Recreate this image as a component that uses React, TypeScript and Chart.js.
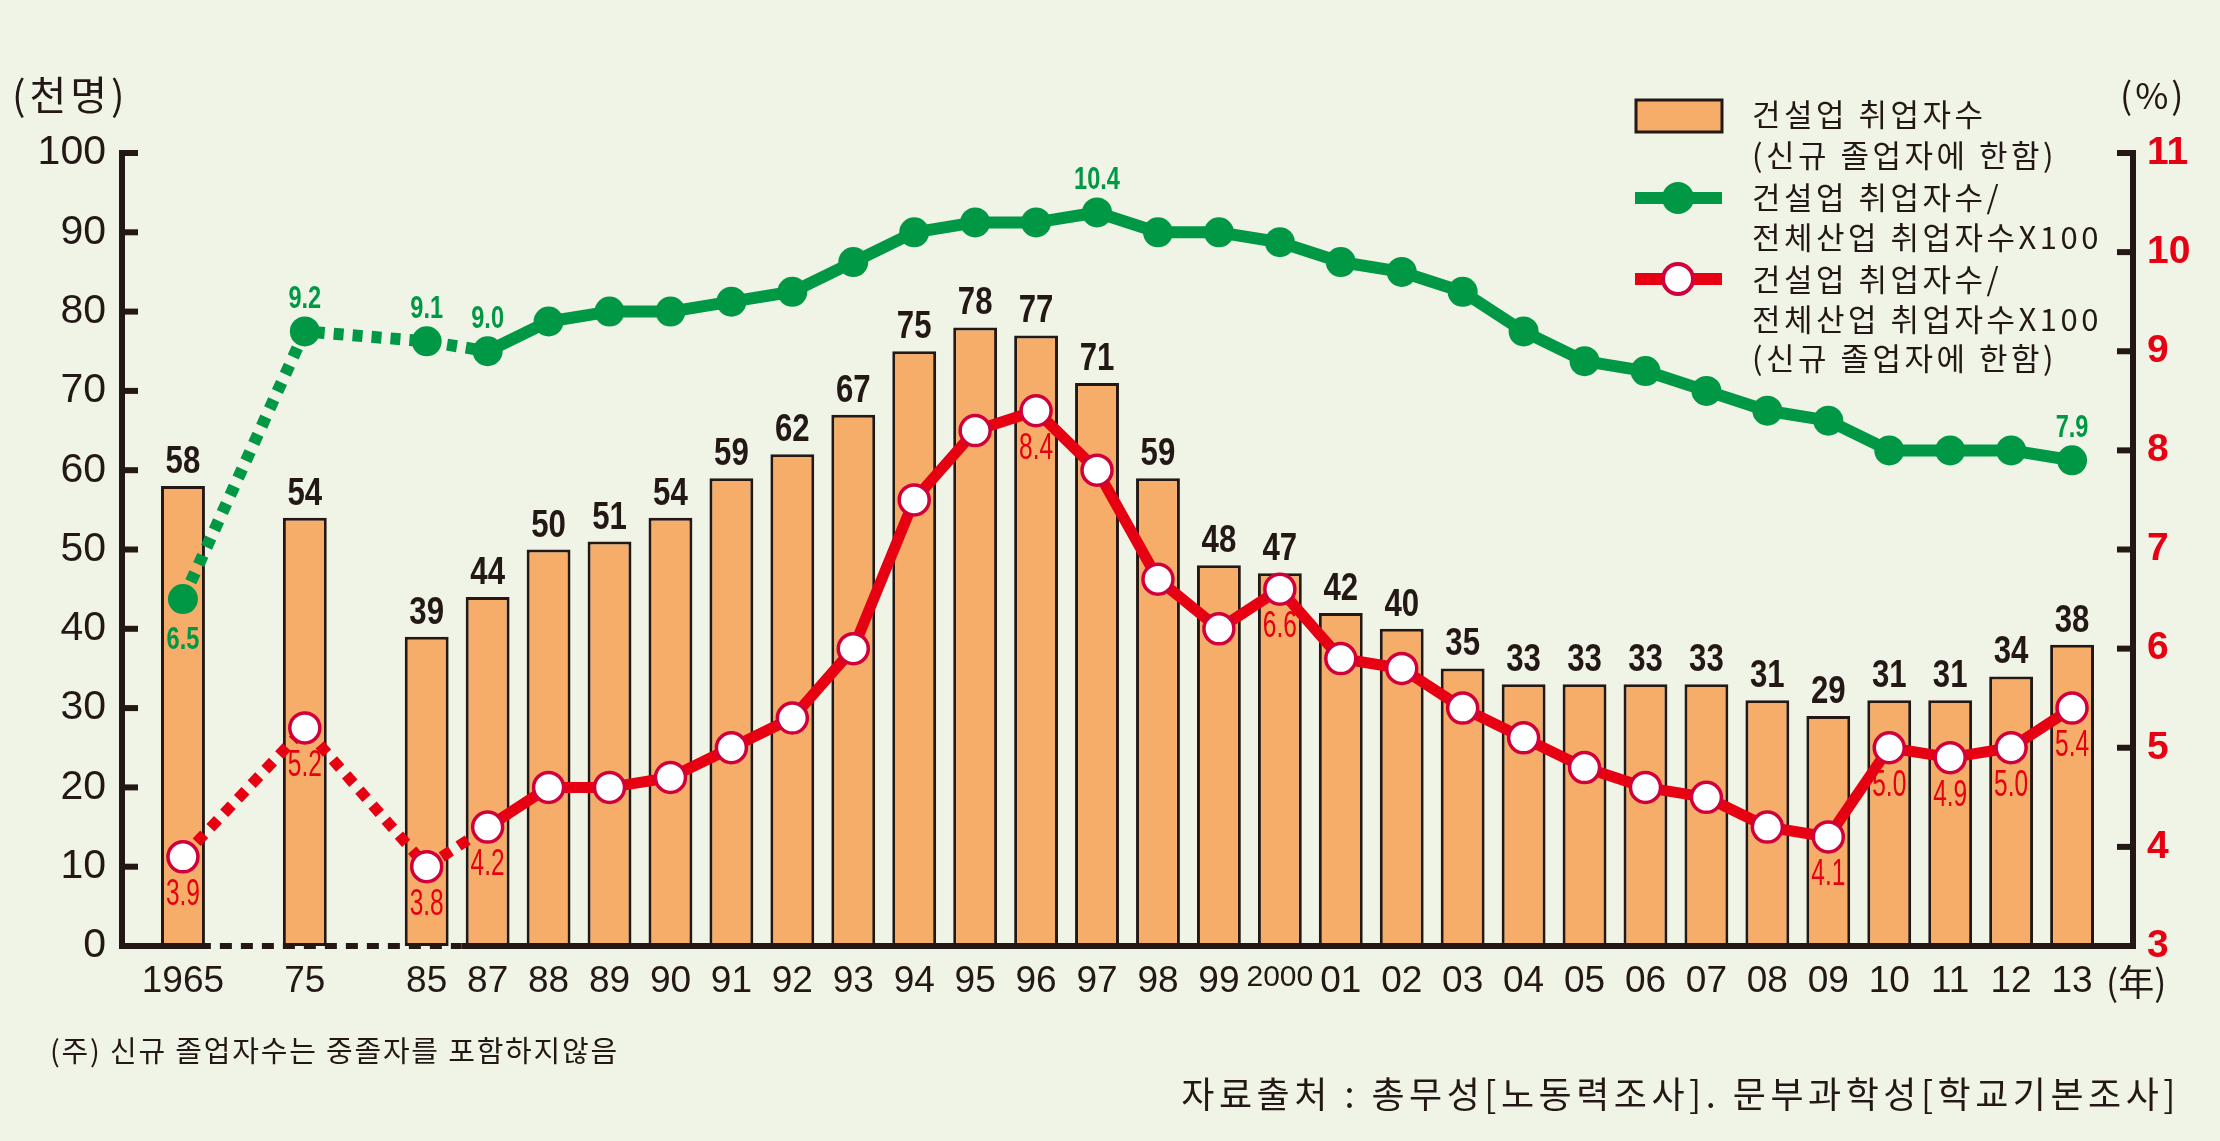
import React, { useEffect, useRef } from "react";
import { Chart, registerables } from "chart.js";

Chart.register(...registerables);

// ---- data ----
const categories = ["", "1965", "", "75", "", "85", "87", "88", "89", "90", "91", "92", "93", "94", "95", "96", "97", "98", "99", "2000", "01", "02", "03", "04", "05", "06", "07", "08", "09", "10", "11", "12", "13", ""];
const workers = [null, 58, null, 54, null, 39, 44, 50, 51, 54, 59, 62, 67, 75, 78, 77, 71, 59, 48, 47, 42, 40, 35, 33, 33, 33, 33, 31, 29, 31, 31, 34, 38, null];
const shareAll = [null, 6.5, null, 9.2, null, 9.1, 9.0, 9.3, 9.4, 9.4, 9.5, 9.6, 9.9, 10.2, 10.3, 10.3, 10.4, 10.2, 10.2, 10.1, 9.9, 9.8, 9.6, 9.2, 8.9, 8.8, 8.6, 8.4, 8.3, 8.0, 8.0, 8.0, 7.9, null];
const shareNew = [null, 3.9, null, 5.2, null, 3.8, 4.2, 4.6, 4.6, 4.7, 5.0, 5.3, 6.0, 7.5, 8.2, 8.4, 7.8, 6.7, 6.2, 6.6, 5.9, 5.8, 5.4, 5.1, 4.8, 4.6, 4.5, 4.2, 4.1, 5.0, 4.9, 5.0, 5.4, null];
// which points carry a value label
const shareAllLabels = [{ i: 1, pos: "below" }, { i: 3, pos: "above" }, { i: 5, pos: "above" }, { i: 6, pos: "above" }, { i: 16, pos: "above" }, { i: 32, pos: "above" }];
const shareNewLabels = [1, 3, 5, 6, 15, 19, 28, 29, 30, 31, 32];
const lastDottedIndex = 6;
const legendLines = [
  "건설업 취업자수",
  "(신규 졸업자에 한함)",
  "건설업 취업자수/",
  "전체산업 취업자수X100",
  "건설업 취업자수/",
  "전체산업 취업자수X100",
  "(신규 졸업자에 한함)",
];
const leftUnit = "(천명)";
const rightUnit = "(%)";
const xUnit = "(年)";
const footnote = "(주) 신규 졸업자수는 중졸자를 포함하지않음";
const source = "자료출처 : 총무성[노동력조사]. 문부과학성[학교기본조사]";

// ---- styles ----
const BG = "#EFF4E6";
const AXIS = "#231815";
const BAR = "#F5AD69";
const GREEN = "#009844";
const RED = "#E60012";
const RING = "#D1003A";
const SANS = "'Liberation Sans', Arial, sans-serif";
const KR = "'Noto Sans CJK KR', 'Noto Sans', sans-serif";

function drawText(ctx: any, text: string, x: number, y: number, font: string, color: string, sx: number, baseline: string, align: string = "center", spacing: string = "0px") {
  ctx.save();
  ctx.translate(x, y);
  ctx.scale(sx, 1);
  ctx.font = font;
  ctx.fillStyle = color;
  ctx.textAlign = align;
  ctx.textBaseline = baseline;
  (ctx as any).letterSpacing = spacing;
  ctx.fillText(text, 0, 0);
  ctx.restore();
}

const bgPlugin = {
  id: "bg",
  beforeDraw(chart: any) {
    const { ctx, width, height } = chart;
    ctx.save();
    ctx.fillStyle = BG;
    ctx.fillRect(0, 0, width, height);
    ctx.restore();
  },
};

const overlayPlugin = {
  id: "overlay",
  afterDatasetsDraw(chart: any) {
    const { ctx, chartArea, scales } = chart;
    const xs = scales.x, ys = scales.y, y1 = scales.y1;
    const slot = xs.getPixelForValue(2) - xs.getPixelForValue(1);
    const half = (slot * 0.72) / 2;
    ctx.save();
    ctx.strokeStyle = AXIS;
    ctx.lineWidth = 6;
    ctx.lineCap = "butt";
    // inward ticks
    ys.ticks.forEach((t: any) => {
      const py = ys.getPixelForValue(t.value);
      ctx.beginPath();
      ctx.moveTo(chartArea.left, py);
      ctx.lineTo(chartArea.left + 16, py);
      ctx.stroke();
    });
    y1.ticks.forEach((t: any) => {
      const py = y1.getPixelForValue(t.value);
      ctx.beginPath();
      ctx.moveTo(chartArea.right - 16, py);
      ctx.lineTo(chartArea.right, py);
      ctx.stroke();
    });
    // x axis line: solid, dashed through the missing years, solid
    const yb = chartArea.bottom;
    const d0 = xs.getPixelForValue(1) + half + 6;
    const d1 = xs.getPixelForValue(lastDottedIndex) - half - 4;
    ctx.beginPath();
    ctx.moveTo(chartArea.left - 3, yb);
    ctx.lineTo(d0, yb);
    ctx.stroke();
    ctx.setLineDash([12, 9]);
    ctx.beginPath();
    ctx.moveTo(d0 + 9, yb);
    ctx.lineTo(d1, yb);
    ctx.stroke();
    ctx.setLineDash([]);
    ctx.beginPath();
    ctx.moveTo(d1, yb);
    ctx.lineTo(chartArea.right + 3, yb);
    ctx.stroke();
    ctx.restore();

    // bar value labels
    const barMeta = chart.getDatasetMeta(0);
    barMeta.data.forEach((el: any, i: number) => {
      const v = workers[i];
      if (v == null) return;
      drawText(ctx, String(v), el.x, el.y - 13, `bold 39px ${SANS}`, AXIS, 0.8, "alphabetic");
    });
    // green labels
    const gMeta = chart.getDatasetMeta(1);
    shareAllLabels.forEach(({ i, pos }) => {
      const el = gMeta.data[i];
      const v = shareAll[i];
      if (!el || v == null) return;
      if (pos === "above") drawText(ctx, v.toFixed(1), el.x, el.y - 23, `bold 31px ${SANS}`, GREEN, 0.76, "alphabetic");
      else drawText(ctx, v.toFixed(1), el.x, el.y + 26, `bold 31px ${SANS}`, GREEN, 0.76, "top");
    });
    // red labels
    const rMeta = chart.getDatasetMeta(2);
    shareNewLabels.forEach((i) => {
      const el = rMeta.data[i];
      const v = shareNew[i];
      if (!el || v == null) return;
      drawText(ctx, v.toFixed(1), el.x, el.y + 20, `36px ${SANS}`, RED, 0.68, "top");
    });
  },
  afterDraw(chart: any) {
    const { ctx } = chart;
    // unit labels
    drawText(ctx, leftUnit, 12, 95, `40px ${KR}`, AXIS, 1, "middle", "left", "4px");
    drawText(ctx, rightUnit, 2120, 95, `36px ${KR}`, AXIS, 1, "middle", "left", "3px");
    drawText(ctx, xUnit, 2106, 982, `36px ${KR}`, AXIS, 1, "middle", "left", "0px");
    // legend
    ctx.save();
    ctx.fillStyle = BAR;
    ctx.strokeStyle = AXIS;
    ctx.lineWidth = 3;
    ctx.fillRect(1636, 100, 86, 32);
    ctx.strokeRect(1636, 100, 86, 32);
    // green marker
    ctx.strokeStyle = GREEN;
    ctx.lineWidth = 12;
    ctx.beginPath();
    ctx.moveTo(1635, 198);
    ctx.lineTo(1722, 198);
    ctx.stroke();
    ctx.fillStyle = GREEN;
    ctx.beginPath();
    ctx.arc(1678, 198, 16, 0, Math.PI * 2);
    ctx.fill();
    // red marker
    ctx.strokeStyle = RED;
    ctx.beginPath();
    ctx.moveTo(1635, 279);
    ctx.lineTo(1722, 279);
    ctx.stroke();
    ctx.fillStyle = "#FFFFFF";
    ctx.strokeStyle = RING;
    ctx.lineWidth = 4;
    ctx.beginPath();
    ctx.arc(1678, 279, 15, 0, Math.PI * 2);
    ctx.fill();
    ctx.stroke();
    ctx.restore();
    const ly = [114, 155, 197, 237, 279, 319, 358];
    legendLines.forEach((t, k) => {
      drawText(ctx, t, 1752, ly[k], `31px ${KR}`, AXIS, 1, "middle", "left", "3.5px");
    });
    // footnote & source
    drawText(ctx, footnote, 50, 1051, `29px ${KR}`, AXIS, 1, "middle", "left", "1.8px");
    drawText(ctx, source, 2180, 1094, `36px ${KR}`, AXIS, 1, "middle", "right", "4.5px");
  },
};

export default function App() {
  const ref = useRef<HTMLCanvasElement | null>(null);
  useEffect(() => {
    document.body.style.margin = "0";
    document.body.style.background = BG;
    const canvas = ref.current;
    if (!canvas) return;
    const chart = new Chart(canvas, {
      type: "bar",
      data: {
        labels: categories,
        datasets: [
          {
            type: "bar",
            label: "건설업 취업자수 (신규 졸업자에 한함)",
            data: workers,
            yAxisID: "y",
            backgroundColor: BAR,
            borderColor: AXIS,
            borderWidth: 3,
            borderSkipped: false,
            categoryPercentage: 1,
            barPercentage: 0.72,
            order: 3,
          },
          {
            type: "line",
            label: "건설업 취업자수/전체산업 취업자수X100",
            data: shareAll,
            yAxisID: "y1",
            borderColor: GREEN,
            borderWidth: 12,
            borderCapStyle: "butt",
            borderJoinStyle: "round",
            pointRadius: 15,
            pointBackgroundColor: GREEN,
            pointBorderWidth: 0,
            spanGaps: true,
            tension: 0,
            segment: {
              borderDash: (c: any) => (c.p1DataIndex <= lastDottedIndex ? [10, 9] : undefined),
            },
            order: 2,
          },
          {
            type: "line",
            label: "건설업 취업자수/전체산업 취업자수X100 (신규 졸업자에 한함)",
            data: shareNew,
            yAxisID: "y1",
            borderColor: RED,
            borderWidth: 11,
            borderCapStyle: "butt",
            borderJoinStyle: "round",
            pointRadius: 15,
            pointBackgroundColor: "#FFFFFF",
            pointBorderColor: RING,
            pointBorderWidth: 3.5,
            spanGaps: true,
            tension: 0,
            segment: {
              borderDash: (c: any) => (c.p1DataIndex <= lastDottedIndex ? [11, 9] : undefined),
            },
            order: 1,
          },
        ],
      } as any,
      options: {
        responsive: false,
        animation: false,
        devicePixelRatio: 1,
        layout: { padding: { top: 153, left: 0, right: 0, bottom: 0 } },
        plugins: {
          legend: { display: false },
          tooltip: { enabled: false },
          title: { display: false },
        },
        scales: {
          x: {
            type: "category",
            offset: false,
            grid: { display: false, drawTicks: false },
            border: { display: false },
            ticks: {
              autoSkip: false,
              maxRotation: 0,
              minRotation: 0,
              padding: 14,
              color: AXIS,
              font: (c: any) =>
                c.tick && c.tick.label === "2000"
                  ? { family: "'Liberation Sans Narrow', " + SANS, size: 30 }
                  : { family: SANS, size: 37 },
            },
            afterFit: (s: any) => {
              s.height = 195;
            },
          },
          y: {
            position: "left",
            min: 0,
            max: 100,
            grid: { display: false, drawTicks: false },
            border: { display: true, color: AXIS, width: 6 },
            ticks: { stepSize: 10, padding: 16, color: AXIS, font: { family: SANS, size: 41 } },
            afterFit: (s: any) => {
              s.width = 122;
            },
          },
          y1: {
            position: "right",
            min: 3,
            max: 11,
            grid: { display: false, drawTicks: false },
            border: { display: true, color: AXIS, width: 6 },
            ticks: { stepSize: 1, padding: 14, color: RED, font: { family: SANS, size: 39, weight: "bold" } },
            afterFit: (s: any) => {
              s.width = 87;
            },
          },
        },
      } as any,
      plugins: [bgPlugin, overlayPlugin],
    });
    return () => chart.destroy();
  }, []);
  return <canvas ref={ref} width={2220} height={1141} style={{ display: "block" }} />;
}
